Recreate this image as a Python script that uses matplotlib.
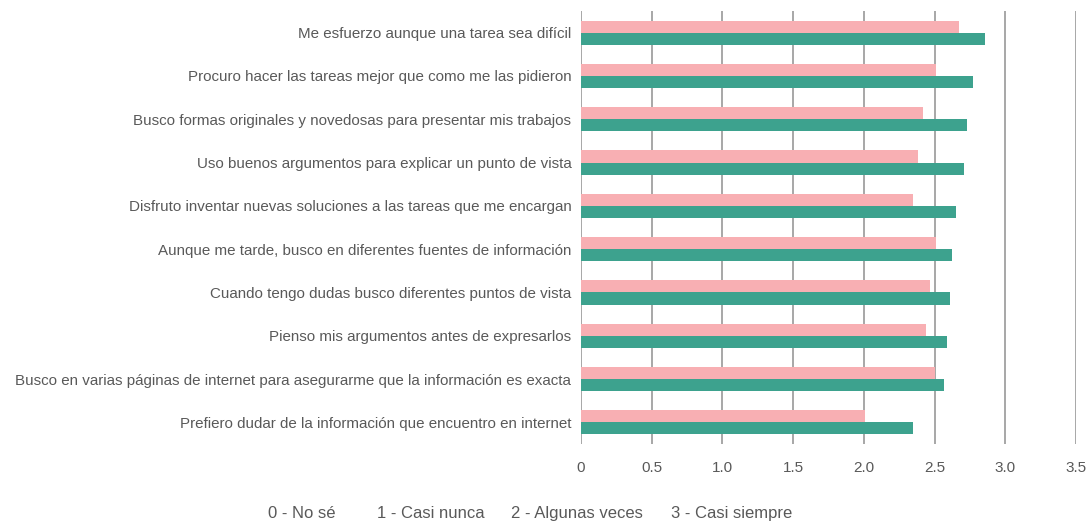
import matplotlib

matplotlib.use("Agg")

import matplotlib.pyplot as plt
import numpy as np

categories = [
    "Me esfuerzo aunque una tarea sea difícil",
    "Procuro hacer las tareas mejor que como me las pidieron",
    "Busco formas originales y novedosas para presentar mis trabajos",
    "Uso buenos argumentos para explicar un punto de vista",
    "Disfruto inventar nuevas soluciones a las tareas que me encargan",
    "Aunque me tarde, busco en diferentes fuentes de información",
    "Cuando tengo dudas busco diferentes puntos de vista",
    "Pienso mis argumentos antes de expresarlos",
    "Busco en varias páginas de internet para asegurarme que la información es exacta",
    "Prefiero dudar de la información que encuentro en internet",
]
pink_values = [2.67, 2.51, 2.42, 2.38, 2.345, 2.51, 2.47, 2.44, 2.50, 2.01]
green_values = [2.855, 2.77, 2.73, 2.71, 2.655, 2.62, 2.61, 2.59, 2.565, 2.345]
scale_labels = ["0 - No sé", "1 - Casi nunca", "2 - Algunas veces", "3 - Casi siempre"]
xticks = [0, 0.5, 1.0, 1.5, 2.0, 2.5, 3.0, 3.5]
xtick_labels = ["0", "0.5", "1.0", "1.5", "2.0", "2.5", "3.0", "3.5"]

PINK = "#F8AFB3"
GREEN = "#3DA28E"
TEXT = "#595959"
GRID = "#A0A0A0"

plt.rcParams["font.family"] = ["Liberation Sans", "DejaVu Sans"]

fig = plt.figure(figsize=(10.86, 5.23), dpi=100)
ax = fig.add_axes([581 / 1086, 1 - 444 / 523, (1076 - 581) / 1086, (444 - 11) / 523])

n = len(categories)
y = np.arange(n)[::-1]
h = 0.28
ax.barh(y + h / 2, pink_values, height=h, color=PINK, zorder=2)
ax.barh(y - h / 2, green_values, height=h, color=GREEN, zorder=2)

ax.set_xlim(0, 3.5)
ax.set_ylim(-0.5, n - 0.5)
ax.set_yticks(y)
ax.set_yticklabels(categories, fontsize=10.9, color=TEXT)
ax.set_xticks(xticks)
ax.set_xticklabels(xtick_labels, fontsize=11, color=TEXT)
ax.tick_params(axis="both", length=0)
ax.tick_params(axis="y", pad=7)
ax.tick_params(axis="x", pad=12)

for s in ax.spines.values():
    s.set_visible(False)
ax.grid(axis="x", color=GRID, linewidth=1.3, zorder=0)
ax.set_axisbelow(True)

# category key below the chart (plain text, no markers)
legend_x = [268, 377, 511, 671]
for label, lx in zip(scale_labels, legend_x):
    fig.text(lx / 1086, 1 - 518 / 523, label, fontsize=12, color=TEXT, ha="left", va="baseline")

fig.savefig("out.png", dpi=100)
plt.close(fig)
